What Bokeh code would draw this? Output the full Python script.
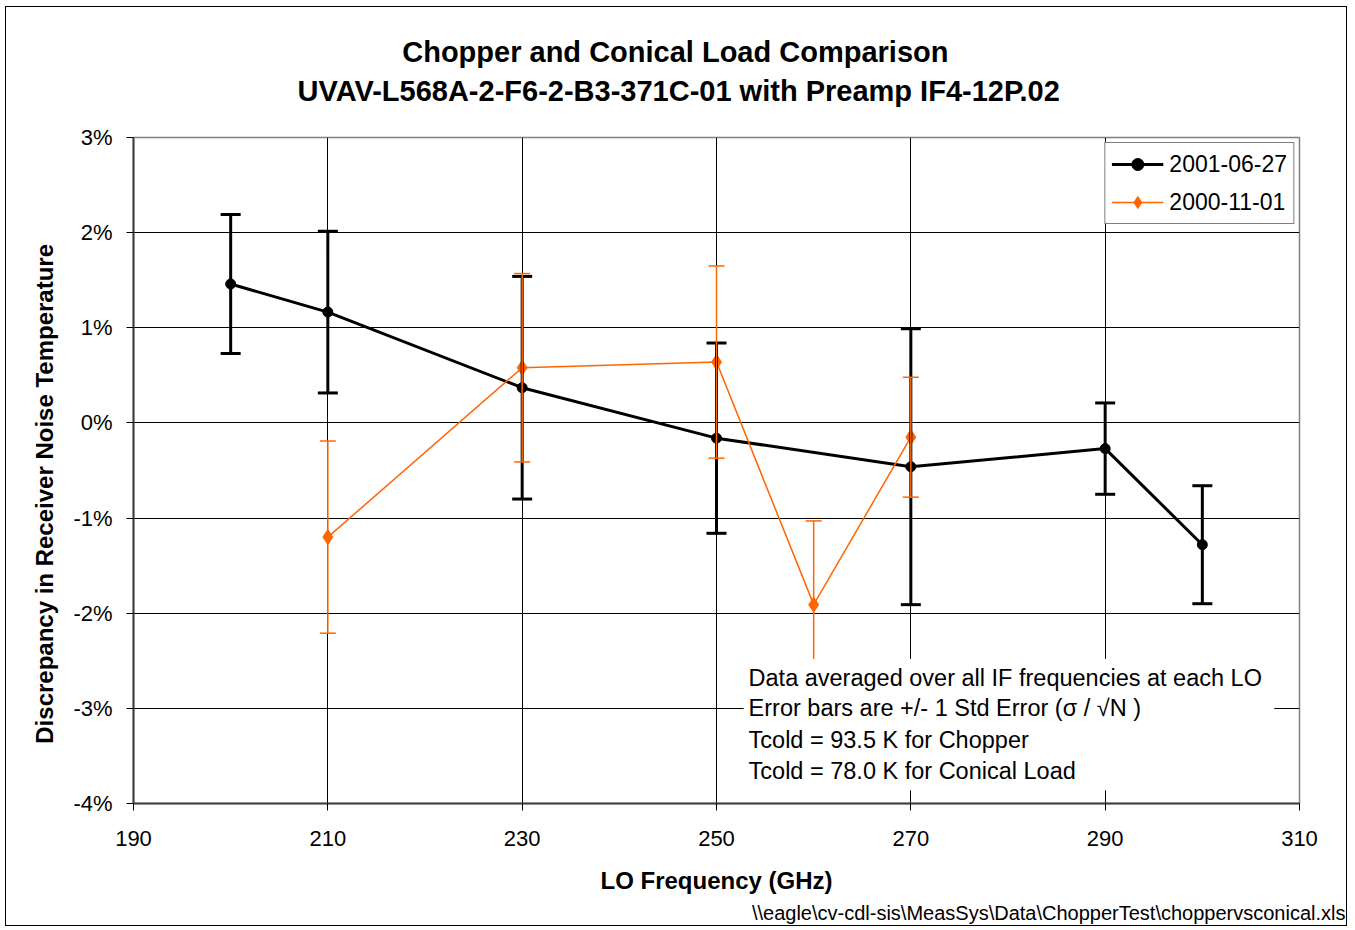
from bokeh.plotting import figure
from bokeh.models import (ColumnDataSource, Whisker, TeeHead, Range1d, FixedTicker,
                          PrintfTickFormatter, Title, Label, BoxAnnotation, Legend)
from bokeh.embed import file_html
from bokeh.resources import INLINE

# ---- data (percent) ----
lo_a = [200, 210, 230, 250, 270, 290, 300]
val_a = [1.46, 1.165, 0.37, -0.16, -0.46, -0.27, -1.28]
err_a = [0.73, 0.85, 1.17, 1.00, 1.45, 0.48, 0.62]

lo_b = [210, 230, 250, 260, 270]
val_b = [-1.20, 0.58, 0.64, -1.91, -0.15]
err_b = [1.01, 0.99, 1.01, 0.88, 0.63]

name_a = "2001-06-27"
name_b = "2000-11-01"

x_ticks = [190, 210, 230, 250, 270, 290, 310]
y_ticks = [-4, -3, -2, -1, 0, 1, 2, 3]

notes = ["Data averaged over all IF frequencies at each LO",
         "Error bars are +/- 1 Std Error (\u03c3 / \u221aN )",
         "Tcold = 93.5 K for Chopper",
         "Tcold = 78.0 K for Conical Load"]

title1 = "Chopper and Conical Load Comparison"
title2 = "UVAV-L568A-2-F6-2-B3-371C-01 with Preamp IF4-12P.02"
x_label = "LO Frequency (GHz)"
y_label = "Discrepancy in Receiver Noise Temperature"
footer = r"\\eagle\cv-cdl-sis\MeasSys\Data\ChopperTest\choppervsconical.xls"

FONT = "Liberation Sans"
BLACK = "#000000"
ORANGE = "#FF6600"

src_a = ColumnDataSource(dict(x=lo_a, y=val_a,
                              upper=[v + e for v, e in zip(val_a, err_a)],
                              lower=[v - e for v, e in zip(val_a, err_a)]))
src_b = ColumnDataSource(dict(x=lo_b, y=val_b,
                              upper=[v + e for v, e in zip(val_b, err_b)],
                              lower=[v - e for v, e in zip(val_b, err_b)]))

p = figure(width=1342, height=920, output_backend="svg", toolbar_location=None,
           x_range=Range1d(190, 310), y_range=Range1d(-4, 3),
           min_border_left=127, min_border_right=49, min_border_bottom=123,
           min_border_top=130)
p.margin = (6, 0, 0, 5)
p.styles = {"border": "1px solid black", "box-sizing": "border-box"}
p.background_fill_color = "white"
p.border_fill_color = "white"
p.outline_line_color = "#808080"
p.outline_line_width = 1.5

# two-line title, centred on the whole chart (first line padded to centre it)
p.add_layout(Title(text="\u00a0" * 13 + title1 + "\n" + title2, align="left",
                   offset=164, text_font=FONT,
                   text_font_size="29px", text_font_style="bold", text_color=BLACK,
                   text_line_height=1.225, standoff=40,
                   padding=dict(left=0, right=0, top=0, bottom=10)), "above")
# footer
p.add_layout(Title(text=footer, align="right", text_font=FONT, text_font_size="20px",
                   text_font_style="normal", text_color=BLACK, offset=-46,
                   standoff=7), "below")

# axes
for ax in (p.xaxis[0], p.yaxis[0]):
    ax.axis_line_color = "#404040"
    ax.axis_line_width = 2
    ax.major_tick_line_color = BLACK
    ax.major_tick_in = 0
    ax.major_tick_out = 7
    ax.minor_tick_line_color = None
    ax.major_label_text_font = FONT
    ax.major_label_text_font_size = "22px"
    ax.major_label_text_color = BLACK
    ax.axis_label_text_font = FONT
    ax.axis_label_text_font_size = "24px"
    ax.axis_label_text_font_style = "bold"
    ax.axis_label_text_color = BLACK

p.xaxis.ticker = FixedTicker(ticks=x_ticks)
p.yaxis.ticker = FixedTicker(ticks=y_ticks)
p.yaxis.formatter = PrintfTickFormatter(format="%d%%")
p.xaxis.axis_label = x_label
p.yaxis.axis_label = y_label + "\u00a0" * 7
p.xaxis.major_label_standoff = 20
p.xaxis.axis_label_standoff = 18
p.yaxis.major_label_standoff = 14
p.yaxis.axis_label_standoff = 12

p.grid.grid_line_color = BLACK
p.grid.grid_line_width = 1
p.grid.grid_line_alpha = 1

# series A (black)
wa = Whisker(source=src_a, base="x", upper="upper", lower="lower", dimension="height",
             line_color=BLACK, line_width=3, level="glyph",
             upper_head=TeeHead(size=20, line_color=BLACK, line_width=3),
             lower_head=TeeHead(size=20, line_color=BLACK, line_width=3))
p.add_layout(wa)
la = p.line("x", "y", source=src_a, line_color=BLACK, line_width=3)
ma = p.scatter("x", "y", source=src_a, marker="circle", size=10,
               fill_color=BLACK, line_color=BLACK)

# series B (orange)
wb = Whisker(source=src_b, base="x", upper="upper", lower="lower", dimension="height",
             line_color=ORANGE, line_width=1.5, level="glyph",
             upper_head=TeeHead(size=16, line_color=ORANGE, line_width=1.5),
             lower_head=TeeHead(size=16, line_color=ORANGE, line_width=1.5))
p.add_layout(wb)
lb = p.line("x", "y", source=src_b, line_color=ORANGE, line_width=1.5)
mb = p.scatter("x", "y", source=src_b, marker="diamond", size=15,
               fill_color=ORANGE, line_color=ORANGE)

legend = Legend(items=[(name_a, [la, ma]), (name_b, [lb, mb])], location="top_right")
legend.margin = 5
legend.padding = 6
legend.spacing = 8
legend.glyph_width = 52
legend.glyph_height = 30
legend.label_standoff = 6
legend.label_text_font = FONT
legend.label_text_font_size = "23px"
legend.label_text_color = BLACK
legend.border_line_color = BLACK
legend.border_line_width = 1.5
legend.background_fill_color = "white"
legend.background_fill_alpha = 1
p.add_layout(legend)

# annotation box
box = BoxAnnotation(left=252.8, right=307.4, top=-2.48, bottom=-3.86,
                    fill_color="white", fill_alpha=1, line_color=None, level="annotation")
p.add_layout(box)
note_y = [-2.676, -3.0, -3.337, -3.662]
for t, yy in zip(notes, note_y):
    p.add_layout(Label(x=253.3, y=yy, text=t, text_font=FONT, text_font_size="23.5px",
                       text_baseline="middle", text_align="left", text_color=BLACK))

open("out.html", "w").write(file_html(p, INLINE))
